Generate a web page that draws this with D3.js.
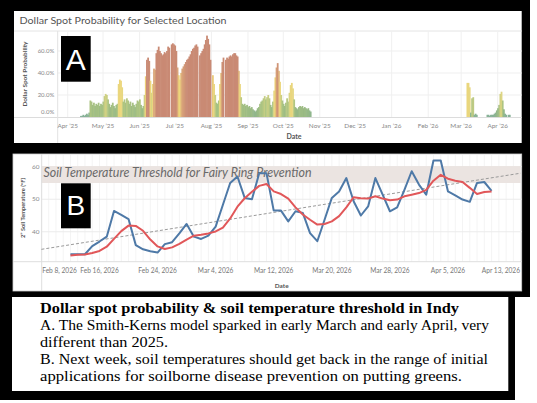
<!DOCTYPE html>
<html>
<head>
<meta charset="utf-8">
<script src="https://cdn.jsdelivr.net/npm/d3@7"></script>
<style>
  body { margin: 0; background: #fff; }
  svg { display: block; }
</style>
</head>
<body>
<div class="chart"></div>
<script>
// ---- Panel A: Smith-Kerns dollar spot probability (%), one value per day
const season2025Start = '2025-04-12';
const season2025 = [
    1, 1, 2, 1, 2, 3, 2, 4,
    15, 14, 11, 13, 10, 12, 11, 13, 10, 12, 11, 14,
    19, 21, 20, 16, 12, 9, 11, 13, 10, 8, 11, 12,
    30, 34, 33, 27,
    14, 16, 13, 17, 15, 12, 14, 10, 13, 11, 9, 12, 15, 14, 16, 11, 8, 10,
    20, 37, 52, 54, 51, 33, 22, 30, 44, 43,
    58, 61, 64, 60, 58, 56, 57, 59, 58, 60, 64, 63,
    null,
    66, 67, 66, 65, 60, 45, 38, 34, 40, 44, 46, 48, 50, 52, 53, 55, 57, 60, 62, 63, 65, 66, 64,
    null,
    56, 58, 60, 62, 66, 70, 74, 71, 66, 52,
    null,
    38, 30, 20, 13, 12, 15, 30, 40, 50, 54,
    null,
    52, 54, 53, 55, 56, 55, 57, 58, 58, 56, 55, 42, 30, 18,
    12, 11, 12, 10, 11, 9, 10, 8, 9, 7, 6, 5, 6, 8, 9,
    12, 14, 15, 17, 19, 16, 18, 20, 17, 11, 9, 14,
    24, 36, 45, 49, 42, 32, 20, 15, 12, 10, 13, 17, 14, 22, 29, 31, 26, 16,
    9, 8, 7, 9, 10, 9, 10, 8, 9, 8, 7, 8, 6, 5
];
const spring2026Start = '2026-03-06';
const spring2026 = [
    31, 31, 27, 4, 17, 18, 2, 3, 2,
    null, null, null, null, null, null, null, null,
    2, 2, 1, 2, 2, 2, 3, 4, 6, 8, 11, 21, 23, 15, 7, 3, 2, null, 2, 2
];
const monthDates = ['2025-04-01', '2025-05-01', '2025-06-01', '2025-07-01', '2025-08-01',
    '2025-09-01', '2025-10-01', '2025-11-01', '2025-12-01', '2026-01-01', '2026-02-01',
    '2026-03-01', '2026-04-01'];
const monthLabels = ['Apr \u201925', 'May \u201925', 'Jun \u201925', 'Jul \u201925', 'Aug \u201925',
    'Sep \u201925', 'Oct \u201925', 'Nov \u201925', 'Dec \u201925', 'Jan \u201926', 'Feb \u201926',
    'Mar \u201926', 'Apr \u201926'];
const probTicks = [0, 20, 40, 60];
const probLabels = ['0.0%', '20.0%', '40.0%', '60.0%'];

// ---- Panel B: 2" soil temperature (F), one value per day from Feb 12, 2026
const soilStart = '2026-02-12';
const soilTemp = [
    33.1, 33.1, 33.1, 35.6, 37.0, 38.5, 46.4, 45.2, 43.9, 35.9, 34.6, 34.0, 33.6, 36.2, 36.8, 39.5, 42.4,
    38.5, 37.8, 38.8, 41.6, 48.3, 55.0, 57.0, 50.4, 50.0, 58.0, 58.0, 46.5, 46.5, 43.2, 46.3, 45.8,
    39.6, 37.1, 43.7, 50.4, 52.4, 56.5, 49.4, 45.0, 47.8, 56.5, 51.4, 46.3, 47.5, 52.9, 58.6,
    54.5, 51.4, 61.9, 61.9, 52.4, 51.2, 49.9, 49.2, 55.0, 55.3, 52.6
];
const soilSmooth = [
    32.7, 32.9, 33.0, 33.5, 34.1, 35.4, 37.8, 40.2, 41.9, 41.8, 40.3, 37.6, 35.5, 34.7, 35.2, 36.3, 37.6,
    38.8, 39.1, 39.5, 40.1, 41.3, 44.1, 47.7, 50.3, 52.3, 54.1, 54.7, 52.4, 51.6, 50.2, 47.5, 45.3,
    43.7, 42.2, 42.4, 43.2, 44.8, 47.5, 50.6, 50.3, 50.2, 50.9, 50.2, 49.7, 49.9, 50.9, 51.4,
    51.9, 52.9, 55.7, 57.5, 56.3, 55.7, 55.3, 53.5, 51.6, 52.2, 52.4
];
const trendDates = ['2026-02-08', '2026-04-15'];
const trendTemps = [34.6, 58.0];
const thresholdBand = [55, 60.2];
const dateTicksB = ['2026-02-08', '2026-02-16', '2026-02-24', '2026-03-04', '2026-03-12',
    '2026-03-20', '2026-03-28', '2026-04-05', '2026-04-13'];
const dateLabelsB = ['Feb 8, 2026', 'Feb 16, 2026', 'Feb 24, 2026', 'Mar 4, 2026', 'Mar 12, 2026',
    'Mar 20, 2026', 'Mar 28, 2026', 'Apr 5, 2026', 'Apr 13, 2026'];
const tempTicks = [40, 50, 60];

// ---- Caption
const notes = [
    'Dollar spot probability & soil temperature threshold in Indy',
    'A. The Smith-Kerns model sparked in early March and early April, very',
    'different than 2025.',
    'B. Next week, soil temperatures should get back in the range of initial',
    'applications for soilborne disease prevention on putting greens.'
];
const noteWidths = [419, 449, 128, 448, 422];

const parse = d3.utcParse('%Y-%m-%d');
const chartFont = 'Lato, "Open Sans", sans-serif';

function daily(start, values) {
    const s = parse(start);
    return values.map((v, i) => ({ date: d3.utcDay.offset(s, i), value: v }));
}

const svg = d3.select('.chart')
    .append('svg')
    .attr('width', 537)
    .attr('height', 403);

// frame
svg.append('rect').attr('width', 537).attr('height', 403).attr('fill', '#fff');
svg.append('rect').attr('width', 530).attr('height', 297).attr('fill', '#000');
svg.append('rect').attr('y', 291).attr('width', 515).attr('height', 109).attr('fill', '#000');

// ================= Panel A =================
const pA = { left: 14, top: 11, right: 521.7, bottom: 143, plotTop: 31, plotLeft: 57.7 };
const xA = d3.scaleUtc().domain([parse('2025-04-01'), parse('2026-04-01')]).range([67.7, 497.7]);
const yA = d3.scaleLinear().domain([0, 60]).range([117, 51]);
const colorA = d3.scaleLinear()
    .domain([0, 8, 16, 24, 36, 44, 52])
    .range(['#82b09d', '#98b984', '#b0c682', '#e4d784', '#eed578', '#d9a57a', '#c98a74'])
    .clamp(true);

const gA = svg.append('g');
gA.append('rect')
    .attr('x', pA.left).attr('y', pA.top)
    .attr('width', pA.right - pA.left).attr('height', pA.bottom - pA.top)
    .attr('fill', '#fff');

gA.append('text')
    .attr('x', 19.5).attr('y', 23.5)
    .attr('font-family', chartFont).attr('font-size', 9.5).attr('fill', '#555')
    .attr('textLength', 207).attr('lengthAdjust', 'spacingAndGlyphs')
    .text('Dollar Spot Probability for Selected Location');

gA.append('line')
    .attr('x1', pA.left).attr('x2', pA.right).attr('y1', pA.plotTop).attr('y2', pA.plotTop)
    .attr('stroke', '#e4e4e4');

// grid
gA.selectAll('.grid-x')
    .data(monthDates)
    .enter()
    .append('line')
    .attr('class', 'grid-x')
    .attr('x1', d => xA(parse(d))).attr('x2', d => xA(parse(d)))
    .attr('y1', pA.plotTop).attr('y2', yA(0))
    .attr('stroke', '#f0f0f0');

gA.selectAll('.grid-y')
    .data(probTicks.slice(1))
    .enter()
    .append('line')
    .attr('class', 'grid-y')
    .attr('x1', pA.plotLeft).attr('x2', pA.right)
    .attr('y1', d => yA(d)).attr('y2', d => yA(d))
    .attr('stroke', '#efefef');

// bars
const barsA = daily(season2025Start, season2025)
    .concat(daily(spring2026Start, spring2026))
    .filter(d => d.value !== null);
const dayW = xA(parse('2025-04-02')) - xA(parse('2025-04-01'));

gA.selectAll('.bar')
    .data(barsA)
    .enter()
    .append('rect')
    .attr('class', 'bar')
    .attr('x', d => xA(d.date) - dayW / 2)
    .attr('y', d => yA(d.value))
    .attr('width', dayW + 0.6)
    .attr('height', d => yA(0) - yA(d.value))
    .attr('fill', d => colorA(d.value));

// axes lines
gA.append('line')
    .attr('x1', pA.left).attr('x2', pA.right).attr('y1', yA(0) + 0.5).attr('y2', yA(0) + 0.5)
    .attr('stroke', '#dcdcdc');
gA.append('line')
    .attr('x1', pA.plotLeft).attr('x2', pA.plotLeft).attr('y1', pA.plotTop).attr('y2', pA.bottom)
    .attr('stroke', '#e2e2e2');

// tick labels
gA.selectAll('.tick-y')
    .data(probTicks)
    .enter()
    .append('text')
    .attr('class', 'tick-y')
    .attr('x', 54.3)
    .attr('y', d => yA(d) + (d === 0 ? -4.7 : 0))
    .attr('dy', '0.35em')
    .attr('text-anchor', 'end')
    .attr('font-family', chartFont).attr('font-size', 6).attr('fill', '#888')
    .text((d, i) => probLabels[i]);

gA.selectAll('.tick-x')
    .data(monthDates)
    .enter()
    .append('text')
    .attr('class', 'tick-x')
    .attr('x', d => xA(parse(d)))
    .attr('y', 127.8)
    .attr('text-anchor', 'middle')
    .attr('font-family', chartFont).attr('font-size', 6.4).attr('fill', '#888')
    .text((d, i) => monthLabels[i]);

gA.append('text')
    .attr('x', 294).attr('y', 139)
    .attr('text-anchor', 'middle')
    .attr('font-family', chartFont).attr('font-size', 7).attr('font-weight', 700).attr('fill', '#555')
    .text('Date');

gA.append('text')
    .attr('transform', 'translate(26.5, 74) rotate(-90)')
    .attr('text-anchor', 'middle')
    .attr('font-family', chartFont).attr('font-size', 5.8).attr('font-weight', 700).attr('fill', '#555')
    .attr('textLength', 65).attr('lengthAdjust', 'spacingAndGlyphs')
    .text('Dollar Spot Probability');

// letter box
gA.append('rect')
    .attr('x', 61).attr('y', 36).attr('width', 29.7).attr('height', 45.7)
    .attr('fill', '#000');
gA.append('text')
    .attr('x', 75.8).attr('y', 70.2)
    .attr('text-anchor', 'middle')
    .attr('font-family', '"Liberation Sans", Arial, sans-serif').attr('font-size', 30).attr('fill', '#fff')
    .text('A');

// ================= Panel B =================
const pB = { left: 13, top: 154, right: 521.7, bottom: 291, plotLeft: 41.7, axisY: 261.7 };
const xB = d3.scaleUtc().domain([parse('2026-02-08'), parse('2026-04-15')]).range([41.4, 520.6]);
const yB = d3.scaleLinear().domain([30.8, 60]).range([pB.axisY, 166.7]);

const gB = svg.append('g');
gB.append('rect')
    .attr('x', pB.left).attr('y', pB.top)
    .attr('width', pB.right - pB.left).attr('height', pB.bottom - pB.top)
    .attr('fill', '#fff').attr('stroke', '#d0d0d0').attr('stroke-width', 0.8);

// daily grid
gB.selectAll('.grid-day')
    .data(d3.utcDay.range(parse('2026-02-08'), parse('2026-04-16')))
    .enter()
    .append('line')
    .attr('class', 'grid-day')
    .attr('x1', d => xB(d)).attr('x2', d => xB(d))
    .attr('y1', pB.top + 1).attr('y2', pB.axisY)
    .attr('stroke', '#f1f1f1').attr('stroke-width', 0.8);

gB.selectAll('.grid-t')
    .data(tempTicks)
    .enter()
    .append('line')
    .attr('class', 'grid-t')
    .attr('x1', pB.plotLeft).attr('x2', pB.right)
    .attr('y1', d => yB(d)).attr('y2', d => yB(d))
    .attr('stroke', '#ebebeb');

// threshold band
gB.append('rect')
    .attr('x', xB.range()[0]).attr('y', yB(thresholdBand[1]))
    .attr('width', xB.range()[1] - xB.range()[0])
    .attr('height', yB(thresholdBand[0]) - yB(thresholdBand[1]))
    .attr('fill', '#ebe4e1');

gB.append('text')
    .attr('x', 43.5).attr('y', 176.6)
    .attr('font-family', chartFont).attr('font-style', 'italic').attr('font-size', 13.5).attr('fill', '#6a6a6a')
    .attr('textLength', 268).attr('lengthAdjust', 'spacingAndGlyphs')
    .text('Soil Temperature Threshold for Fairy Ring Prevention');

// axes
gB.append('line')
    .attr('x1', pB.left).attr('x2', pB.right).attr('y1', pB.axisY).attr('y2', pB.axisY)
    .attr('stroke', '#dedede');
gB.append('line')
    .attr('x1', pB.plotLeft).attr('x2', pB.plotLeft).attr('y1', pB.top).attr('y2', pB.bottom)
    .attr('stroke', '#dedede');

// trend + series
const trend = trendDates.map((d, i) => ({ date: parse(d), value: trendTemps[i] }));
const lineB = d3.line().x(d => xB(d.date)).y(d => yB(d.value));

gB.append('path')
    .datum(trend)
    .attr('d', lineB)
    .attr('fill', 'none')
    .attr('stroke', '#9a9a9a').attr('stroke-width', 1).attr('stroke-dasharray', '3,2');

gB.append('path')
    .datum(daily(soilStart, soilTemp))
    .attr('d', lineB)
    .attr('fill', 'none')
    .attr('stroke', '#4e79a7').attr('stroke-width', 2).attr('stroke-linejoin', 'round');

gB.append('path')
    .datum(daily(soilStart, soilSmooth))
    .attr('d', lineB)
    .attr('fill', 'none')
    .attr('stroke', '#e15759').attr('stroke-width', 2).attr('stroke-linejoin', 'round');

// tick labels
gB.selectAll('.tick-t')
    .data(tempTicks)
    .enter()
    .append('text')
    .attr('class', 'tick-t')
    .attr('x', 39.5)
    .attr('y', d => yB(d))
    .attr('dy', '0.35em')
    .attr('text-anchor', 'end')
    .attr('font-family', chartFont).attr('font-size', 6.4).attr('fill', '#888')
    .text(d => d);

gB.selectAll('.tick-d')
    .data(dateTicksB)
    .enter()
    .append('text')
    .attr('class', 'tick-d')
    .attr('x', (d, i) => i === 0 ? pB.plotLeft + 0.5 : (i === dateTicksB.length - 1 ? 520 : xB(parse(d))))
    .attr('y', 273.3)
    .attr('text-anchor', (d, i) => i === 0 ? 'start' : (i === dateTicksB.length - 1 ? 'end' : 'middle'))
    .attr('font-family', chartFont).attr('font-size', 6.6).attr('fill', '#777')
    .text((d, i) => dateLabelsB[i]);

gB.append('text')
    .attr('x', 281.7).attr('y', 288)
    .attr('text-anchor', 'middle')
    .attr('font-family', chartFont).attr('font-size', 6.4).attr('font-weight', 700).attr('fill', '#555')
    .text('Date');

gB.append('text')
    .attr('transform', 'translate(25, 208) rotate(-90)')
    .attr('text-anchor', 'middle')
    .attr('font-family', chartFont).attr('font-size', 5.6).attr('font-weight', 700).attr('fill', '#555')
    .attr('textLength', 60).attr('lengthAdjust', 'spacingAndGlyphs')
    .text('2\u201D Soil Temperature (\u00B0F)');

gB.append('rect')
    .attr('x', 61).attr('y', 183.3).attr('width', 29.7).attr('height', 45)
    .attr('fill', '#000');
gB.append('text')
    .attr('x', 75.8).attr('y', 214.8)
    .attr('text-anchor', 'middle')
    .attr('font-family', '"Liberation Sans", Arial, sans-serif').attr('font-size', 28).attr('fill', '#fff')
    .text('B');

// ================= Caption =================
const gC = svg.append('g');
gC.append('rect')
    .attr('x', 12).attr('y', 297).attr('width', 496.3).attr('height', 94)
    .attr('fill', '#fff');

const noteY = [313.3, 329.8, 346.7, 363.8, 380.7];
gC.selectAll('.note')
    .data(notes)
    .enter()
    .append('text')
    .attr('class', 'note')
    .attr('x', 40)
    .attr('y', (d, i) => noteY[i])
    .attr('font-family', '"Liberation Serif", "DejaVu Serif", serif')
    .attr('font-size', 15)
    .attr('font-weight', (d, i) => i === 0 ? 700 : 400)
    .attr('fill', '#000')
    .attr('textLength', (d, i) => noteWidths[i])
    .attr('lengthAdjust', 'spacingAndGlyphs')
    .text(d => d);
</script>
</body>
</html>
